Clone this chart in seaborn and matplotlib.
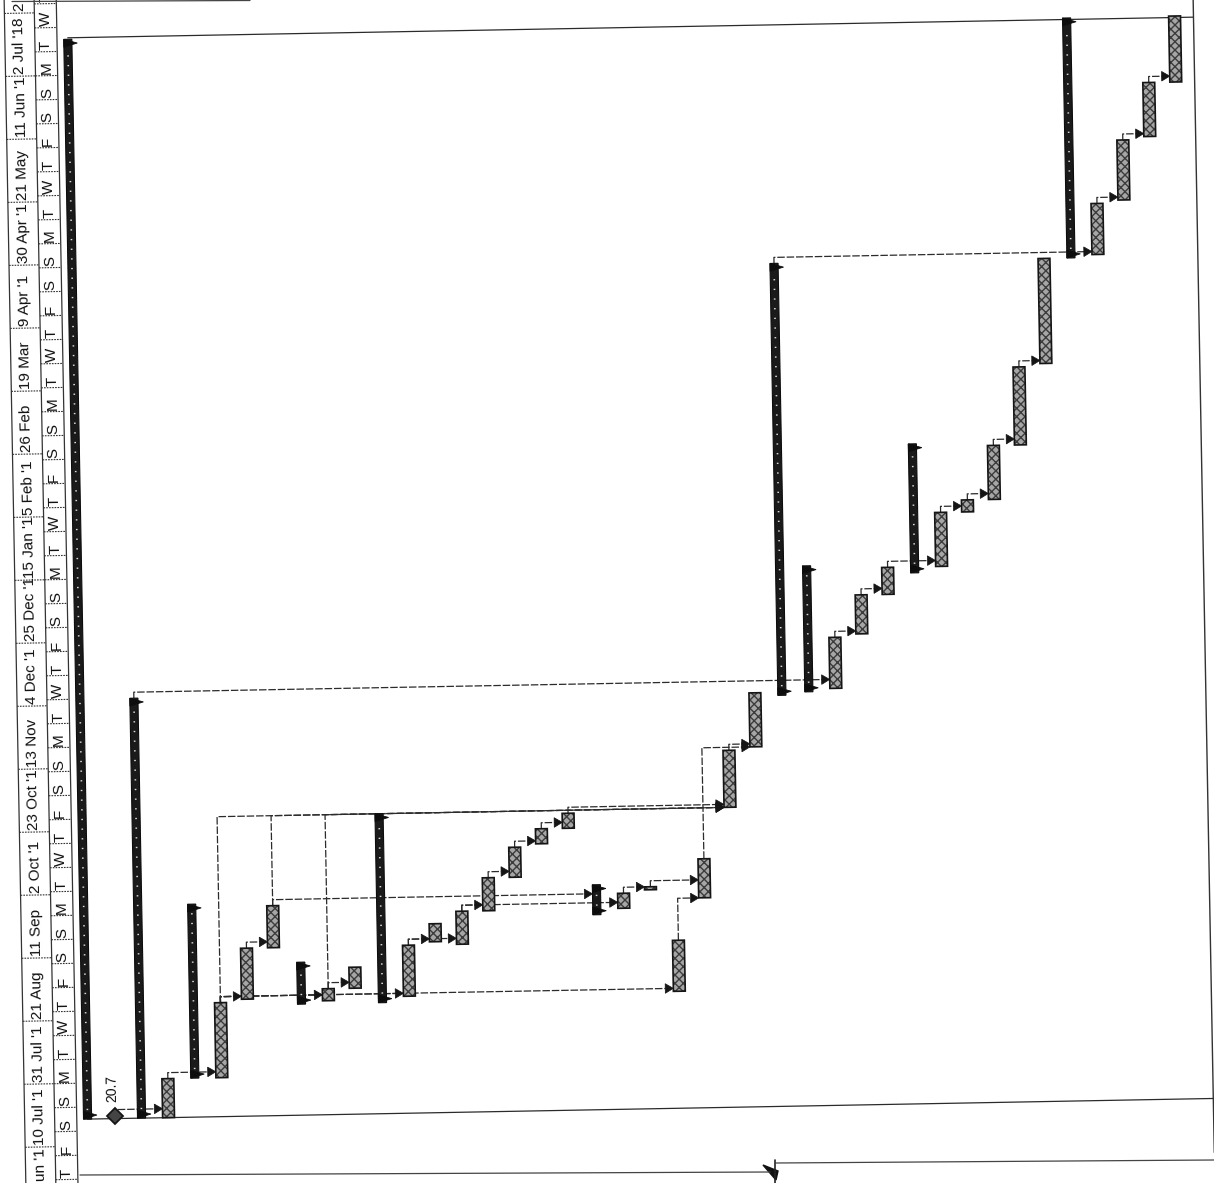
import numpy as np
import pandas as pd
import matplotlib
matplotlib.use("Agg")
import matplotlib.pyplot as plt
import matplotlib.transforms as mtransforms
from matplotlib.patches import Polygon
from matplotlib.lines import Line2D
import seaborn as sns

# ------------------------------------------------------------------
# data read off the scanned (rotated) Gantt chart, one entry per row
# ------------------------------------------------------------------
task_kind = ["summary", "milestone", "summary", "task", "summary", "task", "task", "task",
             "summary", "task", "task", "summary", "task", "task", "task", "task",
             "task", "task", "task", "summary", "task", "task", "task", "task",
             "task", "task", "summary", "summary", "task", "task", "task", "summary",
             "task", "task", "task", "task", "task", "summary", "task", "task",
             "task", "task"]

task_start = ["2017-07-19", "2017-07-20", "2017-07-19", "2017-07-19", "2017-08-01", "2017-08-01",
              "2017-08-27", "2017-09-13", "2017-08-25", "2017-08-26", "2017-08-30", "2017-08-25",
              "2017-08-27", "2017-09-14", "2017-09-13", "2017-09-24", "2017-10-05", "2017-10-16",
              "2017-10-21", "2017-09-22", "2017-09-24", "2017-09-30", "2017-08-27", "2017-09-27",
              "2017-10-27", "2017-11-16", "2017-12-03", "2017-12-04", "2017-12-05", "2017-12-23",
              "2018-01-05", "2018-01-12", "2018-01-14", "2018-02-01", "2018-02-05", "2018-02-23",
              "2018-03-22", "2018-04-26", "2018-04-27", "2018-05-15", "2018-06-05", "2018-06-23"]

task_finish = ["2018-07-14", "2017-07-20", "2017-12-06", "2017-08-01", "2017-09-28", "2017-08-26",
               "2017-09-13", "2017-09-27", "2017-09-08", "2017-08-30", "2017-09-06", "2017-10-27",
               "2017-09-13", "2017-09-20", "2017-09-24", "2017-10-05", "2017-10-15", "2017-10-21",
               "2017-10-26", "2017-10-02", "2017-09-29", "2017-10-01", "2017-09-13", "2017-10-10",
               "2017-11-15", "2017-12-04", "2018-04-26", "2018-01-15", "2017-12-22", "2018-01-05",
               "2018-01-14", "2018-02-24", "2018-02-01", "2018-02-05", "2018-02-23", "2018-03-21",
               "2018-04-26", "2018-07-15", "2018-05-14", "2018-06-04", "2018-06-23", "2018-07-15"]

milestone_label = "20.7"

# finish-to-start links (predecessor row -> successor row)
link_from = [1, 3, 5, 5, 5, 5, 5, 6, 7, 7, 9, 9, 12, 12, 14, 14, 15, 16, 17, 18,
             20, 21, 22, 23, 24, 2, 28, 29, 30, 32, 33, 34, 35, 26, 38, 39, 40]
link_to = [3, 5, 6, 9, 12, 22, 24, 7, 24, 19, 10, 24, 13, 14, 15, 20, 16, 17, 18, 24,
           21, 23, 23, 25, 25, 28, 29, 30, 32, 33, 34, 35, 36, 38, 39, 40, 41]

# timescale: major tier every 3 weeks, minor tier every 8 days (weekday letter)
major_start = pd.date_range("2017-06-19", periods=20, freq="21D")
major_labels = ["un '1", "10 Jul '1", "31 Jul '1", "21 Aug", "11 Sep", "2 Oct '1", "23 Oct '1",
                "13 Nov", "4 Dec '1", "25 Dec '1", "15 Jan '1", "5 Feb '1", "26 Feb", "19 Mar",
                "9 Apr '1", "30 Apr '1", "21 May", "11 Jun '1", "2 Jul '18", "2"]
minor_start = pd.date_range("2017-06-29", "2018-08-01", freq="8D")
minor_labels = ["MTWTFSS"[d.weekday()] for d in minor_start]

# ------------------------------------------------------------------
ORIGIN = pd.Timestamp("2017-07-10")


def day(values):
    return np.asarray((pd.to_datetime(values) - ORIGIN) / pd.Timedelta(days=1), dtype=float)


tasks = pd.DataFrame({"row": np.arange(len(task_kind)), "kind": task_kind,
                      "start": day(task_start), "finish": day(task_finish)})

sns.set_style("white")
plt.rcParams["font.family"] = ["Liberation Sans", "DejaVu Sans"]

W, H = 1214, 1183
fig = plt.figure(figsize=(W / 100, H / 100), dpi=100)
ax = fig.add_axes([0, 0, 1, 1])
ax.set_axis_off()
ax.set_xlim(-78 / 27, (W - 78) / 27)
ax.set_ylim(-46.5 / 3, 1136.5 / 3)

# the scan sits about one degree off square
ANG = 1.05
T = ax.transData + mtransforms.Affine2D().rotate_deg_around(W / 2, H / 2, ANG)

TASK_W, SUM_W = 0.44, 0.30
INK = "#151515"
LINK = "#2b2b2b"

half_w = {"task": TASK_W / 2, "summary": SUM_W / 2, "milestone": 0.2}

# ---------------- timescale (left strip) ----------------
x_left, x_mid, x_right = -2.33, -1.22, -0.40
for x in (x_left, x_mid, x_right):
    ax.plot([x, x], [-20, 390], color="#333333", lw=0.9, transform=T, clip_on=False)

maj = day(major_start)
for m in maj:
    ax.plot([x_left, x_mid], [m, m], color="#333333", lw=0.8, ls=(0, (1.5, 1)), transform=T)
for i, (m, lab) in enumerate(zip(maj, major_labels)):
    if i == 0:
        ax.text((x_left + x_mid) / 2, maj[1] - 0.4, lab, rotation=90 + ANG, rotation_mode="anchor",
                ha="right", va="center", fontsize=11, color="#111111", transform=T)
    else:
        ax.text((x_left + x_mid) / 2, m + 0.7, lab, rotation=90 + ANG, rotation_mode="anchor",
                ha="left", va="center", fontsize=11, color="#111111", transform=T)

mnr = day(minor_start)
for m, lab in zip(mnr, minor_labels):
    ax.plot([x_mid, x_right], [m, m], color="#333333", lw=0.8, ls=(0, (1.5, 1)), transform=T)
    ax.text((x_mid + x_right) / 2, m + 0.4, lab, rotation=90 + ANG, rotation_mode="anchor",
            ha="left", va="center", fontsize=11, color="#111111", transform=T)

# ---------------- project start / finish lines, right border ----------------
p0 = tasks.iloc[0]
ax.plot([p0.row, 42.6], [p0.start, p0.start], color=LINK, lw=0.9, transform=T)
ax.plot([p0.row, 41.7], [p0.finish + 0.5, p0.finish + 0.5], color=LINK, lw=0.9, transform=T)
ax.plot([41.7, 41.7], [-9, 390], color="#333333", lw=1.0, transform=T)

# ---------------- links ----------------
for a, b in zip(link_from, link_to):
    pa, pb = tasks.iloc[a], tasks.iloc[b]
    seg = max(pa.finish + 2, pb.start)
    tip = pb.row - half_w[pb.kind]
    ax.plot([pa.row, pa.row, tip - 0.28], [pa.finish, seg, seg],
            color=LINK, lw=0.9, ls=(0, (6, 1.5)), transform=T, zorder=2)
    ax.add_patch(Polygon([(tip, seg), (tip - 0.3, seg + 1.6), (tip - 0.3, seg - 1.6)],
                         closed=True, facecolor=INK, edgecolor=INK, lw=0.5, transform=T, zorder=4))

# ---------------- task bars ----------------
bt = tasks[tasks.kind == "task"]
fill = ax.bar(bt.row, bt.finish - bt.start, bottom=bt.start, width=TASK_W,
              color="#a6a6a6", edgecolor="#3c3c3c", hatch="xxxx", linewidth=0, zorder=3)
edge = ax.bar(bt.row, bt.finish - bt.start, bottom=bt.start, width=TASK_W,
              fill=False, edgecolor=INK, linewidth=1.2, zorder=3)
for p in list(fill) + list(edge):
    p.set_transform(T)

# ---------------- summary bars with end caps ----------------
bs = tasks[tasks.kind == "summary"]
sums = ax.bar(bs.row, bs.finish - bs.start, bottom=bs.start, width=SUM_W,
              color="#1a1a1a", edgecolor="#0d0d0d", linewidth=0.8, zorder=3)
for p in sums:
    p.set_transform(T)
for _, r in bs.iterrows():
    hw = SUM_W / 2
    # scanned speckle along the black bar
    ax.plot([r.row, r.row], [r.start + 3, r.finish - 3], color="#d9d9d9", lw=1.2,
            ls=(0, (0.8, 5)), transform=T, zorder=4)
    for end, sgn in ((r.finish, -1), (r.start, 1)):
        ax.add_patch(Polygon([(r.row - hw, end), (r.row - hw, end + sgn * 2.6),
                              (r.row + hw + 0.2, end + sgn * 1.3)],
                             closed=True, facecolor="#0d0d0d", edgecolor="#0d0d0d",
                             lw=0.6, transform=T, zorder=4))

# ---------------- milestone ----------------
bm = tasks[tasks.kind == "milestone"]
for _, r in bm.iterrows():
    ax.plot([r.row], [r.start], marker="D", ms=8, mfc="#444444", mec=INK, mew=1.3,
            transform=T, zorder=5)
    ax.text(r.row - 0.07, r.start + 4.4, milestone_label, rotation=90 + ANG, rotation_mode="anchor",
            ha="left", va="center", fontsize=10, color="#111111", transform=T)

# ---------------- edges of the scanned sheet ----------------
Id = mtransforms.IdentityTransform()
for xs, ys in (([80, 770], [1175, 1172]), ([776, 1214], [1163, 1160]), ([12, 250], [1.5, 0.5])):
    fig.add_artist(Line2D(xs, [H - y for y in ys], color="#444444", lw=0.9, transform=Id))
fig.add_artist(Line2D([775, 775], [H - 1160, H - 1183], color="#222222", lw=1.2, transform=Id))
fig.add_artist(Polygon([(763, H - 1165), (778, H - 1171), (776, H - 1180)], closed=True,
                       facecolor="#111111", edgecolor="#111111", transform=Id))

fig.savefig("out.png", dpi=100, facecolor="white")
